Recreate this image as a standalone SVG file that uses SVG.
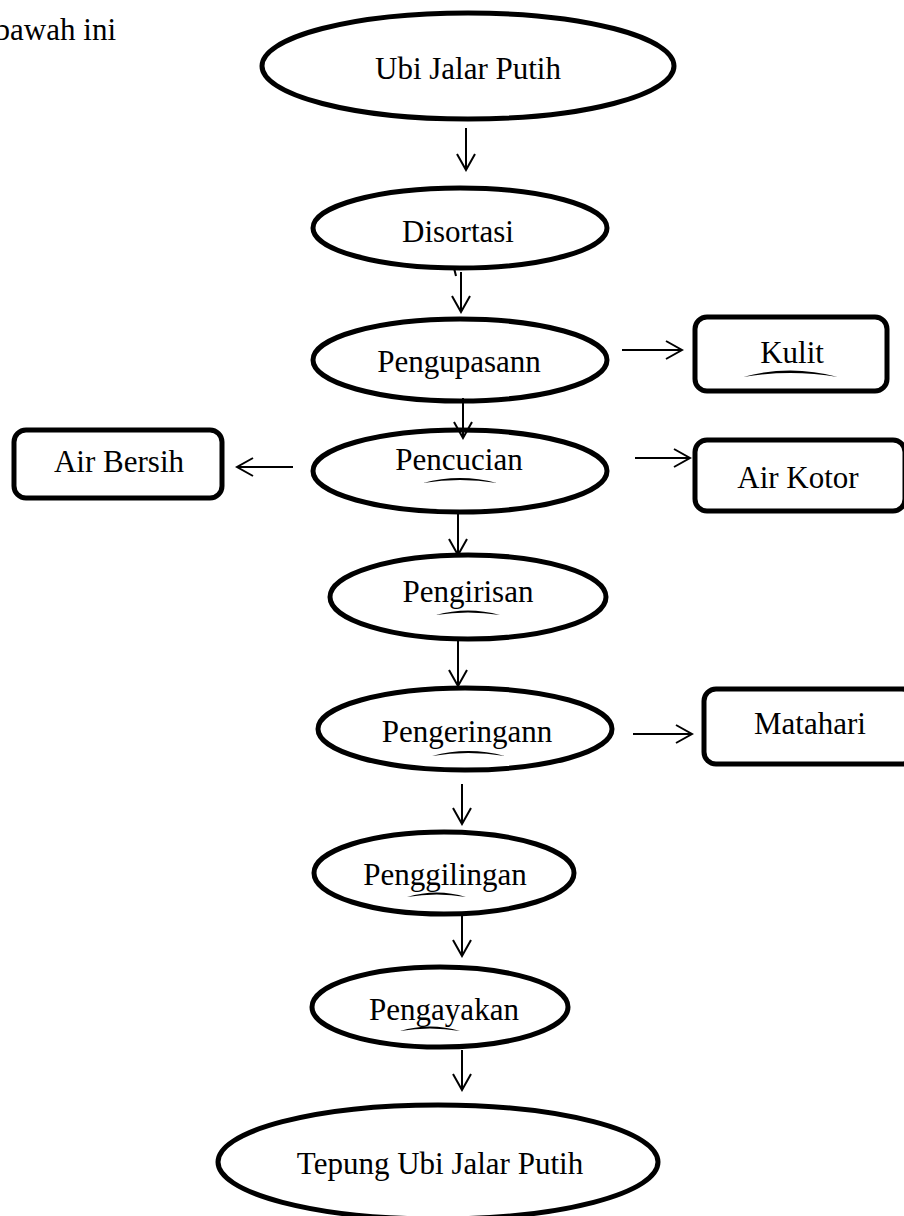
<svg xmlns="http://www.w3.org/2000/svg" width="904" height="1216" viewBox="0 0 904 1216">
<defs>
<style>
text{font-family:"Liberation Serif","Times New Roman",serif;font-size:31px;fill:#000;text-anchor:middle}
.oval{fill:#fff;stroke:#000;stroke-width:5}
.box{fill:#fff;stroke:#000;stroke-width:5}
.conn line{stroke:#000;stroke-width:2;fill:none}
.sq{fill:#000;stroke:none}
</style>
<marker id="ah" viewBox="0 0 20 20" refX="18" refY="10" markerWidth="20" markerHeight="20" markerUnits="userSpaceOnUse" orient="auto">
<path d="M2,1 L18,10 L2,19" fill="none" stroke="#000" stroke-width="2"/>
</marker>
</defs>
<rect width="904" height="1216" fill="#fff"/>
<text x="116" y="40" style="text-anchor:end">bawah ini</text>

<g id="n1"><ellipse class="oval" cx="468" cy="66" rx="206" ry="53"/><text x="468" y="79">Ubi Jalar Putih</text></g>
<g id="n2"><ellipse class="oval" cx="460" cy="228" rx="147" ry="40"/><text x="458" y="242">Disortasi</text></g>
<g id="n3"><ellipse class="oval" cx="460" cy="360" rx="147" ry="41"/><text x="459" y="372">Pengupasann</text></g>
<g id="n4"><rect class="box" x="695" y="317" width="192" height="74" rx="12"/><text x="792" y="363">Kulit</text><path class="sq" d="M743,377 Q790,364 838,377 Q790,369 743,377 Z"/></g>
<g id="n5"><ellipse class="oval" cx="460" cy="471" rx="147" ry="41"/><text x="459" y="470">Pencucian</text><path class="sq" d="M423,483 Q460,473 497,483 Q460,477 423,483 Z"/></g>
<g id="n6"><rect class="box" x="14" y="430" width="208" height="68" rx="12"/><text x="119" y="472">Air Bersih</text></g>
<g id="n7"><rect class="box" x="695" y="440" width="210" height="71" rx="12"/><text x="798" y="488">Air Kotor</text></g>
<g id="n8"><ellipse class="oval" cx="468" cy="597" rx="138" ry="42"/><text x="468" y="602">Pengirisan</text><path class="sq" d="M436,615 Q468,606 500,615 Q468,610 436,615 Z"/></g>
<g id="n9"><ellipse class="oval" cx="465" cy="729" rx="147" ry="41"/><text x="467" y="742">Pengeringann</text><path class="sq" d="M432,756 Q468,746 505,756 Q468,750 432,756 Z"/></g>
<g id="n10"><rect class="box" x="704" y="689" width="210" height="75" rx="12"/><text x="810" y="734">Matahari</text></g>
<g id="n11"><ellipse class="oval" cx="444" cy="873" rx="130" ry="41"/><text x="445" y="885">Penggilingan</text><path class="sq" d="M407,897 Q437,888 466,897 Q437,892 407,897 Z"/></g>
<g id="n12"><ellipse class="oval" cx="440" cy="1007" rx="128" ry="40"/><text x="444" y="1020">Pengayakan</text><path class="sq" d="M400,1031 Q430,1022 460,1031 Q430,1026 400,1031 Z"/></g>
<g id="n13"><ellipse class="oval" cx="438" cy="1162" rx="220" ry="57"/><text x="440" y="1174">Tepung Ubi Jalar Putih</text></g>

<g id="connectors" class="conn">
<line x1="466" y1="128" x2="466" y2="170" marker-end="url(#ah)"/>
<line x1="454" y1="268" x2="456" y2="276"/>
<line x1="461" y1="272" x2="461" y2="312" marker-end="url(#ah)"/>
<line x1="463" y1="398" x2="463" y2="438" marker-end="url(#ah)"/>
<line x1="622" y1="350" x2="682" y2="350" marker-end="url(#ah)"/>
<line x1="293" y1="467" x2="237" y2="467" marker-end="url(#ah)"/>
<line x1="635" y1="458" x2="690" y2="458" marker-end="url(#ah)"/>
<line x1="458" y1="514" x2="458" y2="555" marker-end="url(#ah)"/>
<line x1="458" y1="641" x2="458" y2="686" marker-end="url(#ah)"/>
<line x1="633" y1="734" x2="692" y2="734" marker-end="url(#ah)"/>
<line x1="462" y1="784" x2="462" y2="824" marker-end="url(#ah)"/>
<line x1="462" y1="916" x2="462" y2="956" marker-end="url(#ah)"/>
<line x1="462" y1="1050" x2="462" y2="1090" marker-end="url(#ah)"/>
</g>
</svg>
